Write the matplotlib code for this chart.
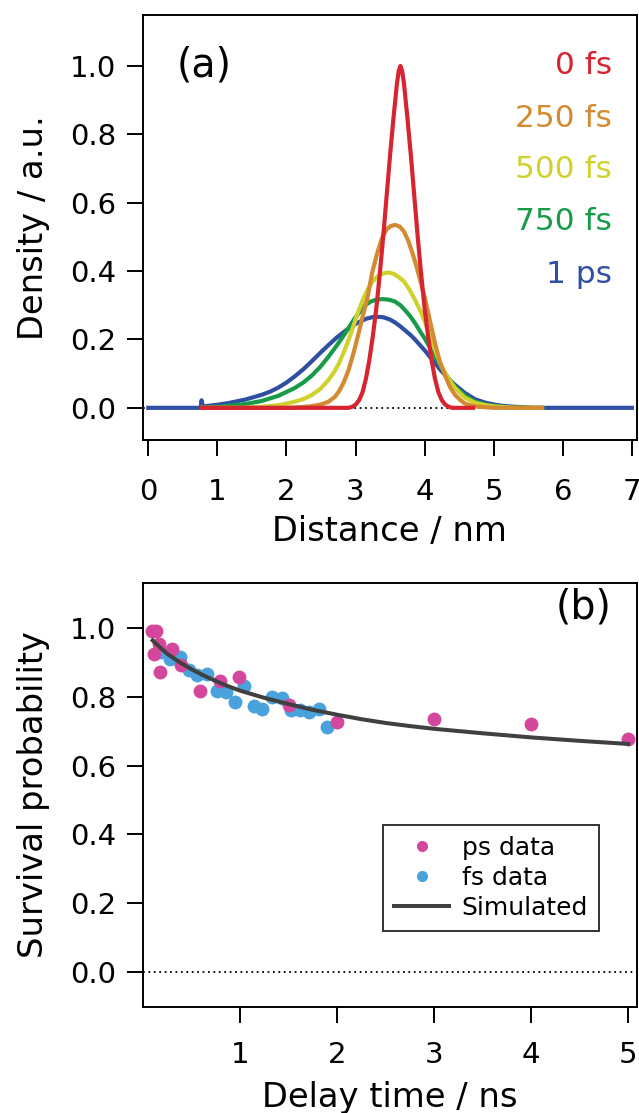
import matplotlib
matplotlib.use("Agg")
import matplotlib.pyplot as plt
from matplotlib.lines import Line2D

plt.rcParams['font.family'] = ['DejaVu Sans']

# ---------------- Panel (a) data: distance distributions ----------------
red_x = [0.78, 2.90, 2.95, 3.00, 3.05, 3.10, 3.15, 3.20, 3.25, 3.30, 3.35, 3.40, 3.45, 3.50,
         3.55, 3.60, 3.625, 3.65, 3.675, 3.70, 3.75, 3.80, 3.85, 3.90, 3.95, 4.00,
         4.05, 4.10, 4.15, 4.20, 4.25, 4.30, 4.35, 4.40, 4.70]
red_y = [0.0, 0.0, 0.003, 0.009, 0.022, 0.045, 0.085, 0.14, 0.21, 0.29, 0.39, 0.50, 0.62, 0.74,
         0.85, 0.95, 0.985, 1.0, 0.985, 0.95, 0.85, 0.74, 0.62, 0.50, 0.39, 0.29,
         0.21, 0.14, 0.085, 0.045, 0.022, 0.009, 0.003, 0.0, 0.0]

orange_x = [0.78, 2.00, 2.20, 2.37, 2.50, 2.61, 2.70, 2.76, 2.83, 2.90, 2.97, 3.04, 3.10, 3.17,
            3.24, 3.31, 3.38, 3.45, 3.51, 3.575, 3.64, 3.70, 3.76, 3.82, 3.88, 3.94, 4.01,
            4.08, 4.15, 4.22, 4.30, 4.37, 4.44, 4.52, 4.59, 4.73, 5.00, 5.70]
orange_y = [0.0, 0.0, 0.002, 0.005, 0.010, 0.018, 0.032, 0.048, 0.075, 0.111, 0.160, 0.215, 0.265, 0.320,
            0.395, 0.450, 0.495, 0.522, 0.532, 0.535, 0.530, 0.516, 0.490, 0.455, 0.415, 0.370, 0.316,
            0.252, 0.189, 0.135, 0.092, 0.060, 0.038, 0.022, 0.012, 0.004, 0.0, 0.0]

yellow_x = [0.78, 1.40, 1.64, 1.90, 2.12, 2.25, 2.37, 2.50, 2.61, 2.69, 2.76, 2.83, 2.90, 2.97,
            3.04, 3.11, 3.18, 3.25, 3.32, 3.40, 3.475, 3.55, 3.62, 3.70, 3.78, 3.86, 3.94,
            4.01, 4.08, 4.15, 4.22, 4.30, 4.37, 4.44, 4.58, 4.73, 4.88, 5.02, 5.30, 5.70]
yellow_y = [0.0, 0.0, 0.003, 0.008, 0.018, 0.026, 0.038, 0.057, 0.082, 0.105, 0.130, 0.163, 0.199, 0.240,
            0.282, 0.318, 0.348, 0.370, 0.385, 0.393, 0.396, 0.392, 0.383, 0.370, 0.346, 0.316, 0.283,
            0.248, 0.208, 0.170, 0.133, 0.101, 0.078, 0.058, 0.030, 0.015, 0.008, 0.004, 0.0, 0.0]

green_x = [0.78, 1.00, 1.16, 1.40, 1.64, 1.88, 2.12, 2.25, 2.37, 2.49, 2.61, 2.73, 2.85, 2.92,
           2.99, 3.07, 3.14, 3.22, 3.31, 3.40, 3.49, 3.57, 3.65, 3.72, 3.79, 3.86, 3.93,
           4.01, 4.08, 4.15, 4.22, 4.30, 4.37, 4.44, 4.58, 4.73, 4.88, 5.02, 5.25, 5.50, 5.70]
green_y = [0.0, 0.003, 0.006, 0.011, 0.020, 0.035, 0.058, 0.075, 0.095, 0.120, 0.150, 0.183, 0.218, 0.240,
           0.262, 0.283, 0.300, 0.311, 0.317, 0.318, 0.316, 0.311, 0.300, 0.285, 0.268, 0.248, 0.225,
           0.200, 0.175, 0.150, 0.126, 0.100, 0.080, 0.062, 0.036, 0.018, 0.010, 0.005, 0.002, 0.0, 0.0]

blue_x = [0.0, 0.76, 0.77, 0.79, 1.00, 1.16, 1.40, 1.64, 1.76, 1.88, 2.00, 2.12, 2.25, 2.37,
          2.49, 2.61, 2.73, 2.85, 2.95, 3.04, 3.16, 3.28, 3.40, 3.49, 3.57, 3.65, 3.72,
          3.79, 3.86, 3.93, 4.01, 4.08, 4.15, 4.22, 4.30, 4.37, 4.44, 4.58, 4.73, 4.88,
          5.02, 5.16, 5.31, 5.60, 7.0]
blue_y = [0.0, 0.0, 0.022, 0.004, 0.009, 0.014, 0.024, 0.038, 0.047, 0.059, 0.074, 0.092, 0.114, 0.137,
          0.161, 0.184, 0.206, 0.225, 0.239, 0.250, 0.261, 0.267, 0.265, 0.259, 0.250, 0.238, 0.226,
          0.214, 0.200, 0.184, 0.166, 0.148, 0.131, 0.113, 0.095, 0.080, 0.067, 0.044, 0.025, 0.015,
          0.009, 0.005, 0.003, 0.0, 0.0]

time_labels = ["0 fs", "250 fs", "500 fs", "750 fs", "1 ps"]
label_y = [0.976, 0.822, 0.672, 0.521, 0.365]

# ---------------- Panel (b) data: survival probability ----------------
ps_t = [0.09, 0.13, 0.16, 0.11, 0.30, 0.17, 0.39, 0.59, 0.79, 0.99, 1.50, 2.00, 3.00, 4.00, 5.00]
ps_p = [0.99, 0.99, 0.955, 0.925, 0.94, 0.873, 0.894, 0.818, 0.847, 0.859, 0.777, 0.726, 0.735, 0.721, 0.677]

fs_t = [0.19, 0.28, 0.38, 0.47, 0.56, 0.66, 0.76, 0.85, 0.95, 1.04, 1.14, 1.23, 1.33, 1.43,
        1.52, 1.62, 1.71, 1.81, 1.90]
fs_p = [0.93, 0.91, 0.915, 0.877, 0.863, 0.866, 0.818, 0.815, 0.785, 0.832, 0.774, 0.765, 0.80, 0.797,
        0.761, 0.763, 0.755, 0.766, 0.712]

sim_t = [0.10, 0.175, 0.25, 0.375, 0.50, 0.625, 0.75, 0.875, 1.00, 1.25, 1.50, 1.75, 2.00,
         2.25, 2.50, 2.75, 3.00, 3.50, 4.00, 4.50, 5.00]
sim_p = [0.964, 0.944, 0.925, 0.901, 0.880, 0.862, 0.846, 0.831, 0.818, 0.797, 0.779, 0.762, 0.748,
         0.735, 0.724, 0.715, 0.707, 0.694, 0.682, 0.672, 0.663]

# ---------------- styling ----------------
c_red = '#D62530'
c_orange = '#D38A31'
c_yellow = '#CFD22E'
c_green = '#179B48'
c_blue = '#2F4FA2'
c_pink = '#D3489C'
c_lblue = '#4AA2DC'
c_sim = '#404040'

TICK = 21
LAB = 24.3
SP_LW = 1.4

fig = plt.figure(figsize=(6.39, 11.13), dpi=100)
ax1 = fig.add_axes([0.2238, 0.6047, 0.7726, 0.3818])
ax2 = fig.add_axes([0.2238, 0.0955, 0.7731, 0.3807])

for ax in (ax1, ax2):
    for s in ax.spines.values():
        s.set_linewidth(SP_LW)
    ax.tick_params(direction='out', length=11.5, width=SP_LW, labelsize=TICK, pad=8,
                   top=False, right=False)
ax1.tick_params(axis='x', pad=16)
ax2.tick_params(axis='x', pad=13)

# Panel (a)
ax1.axhline(0, color='black', lw=1.3, ls=(0, (1, 2)), zorder=1)
lw = 3.0
ax1.plot(blue_x, blue_y, color=c_blue, lw=lw, zorder=2)
ax1.plot(green_x, green_y, color=c_green, lw=lw, zorder=3)
ax1.plot(yellow_x, yellow_y, color=c_yellow, lw=lw, zorder=4)
ax1.plot(orange_x, orange_y, color=c_orange, lw=lw, zorder=5)
ax1.plot(red_x, red_y, color=c_red, lw=lw, zorder=6)
ax1.set_xlim(-0.077, 7.07)
ax1.set_ylim(-0.094, 1.149)
ax1.set_xticks(range(0, 8))
ax1.set_yticks([0.0, 0.2, 0.4, 0.6, 0.8, 1.0])
ax1.set_yticklabels(['0.0', '0.2', '0.4', '0.6', '0.8', '1.0'])
ax1.set_xlabel('Distance / nm', fontsize=LAB, labelpad=6.5)
ax1.set_ylabel('Density / a.u.', fontsize=LAB, labelpad=14.5)
ax1.text(0.41, 1.0, '(a)', fontsize=28.5, ha='left', va='center',
         transform=ax1.transData)
for lab, yv, col in zip(time_labels, label_y, [c_red, c_orange, c_yellow, c_green, c_blue]):
    ax1.text(6.71, yv, lab, color=col, fontsize=22.5, ha='right', va='baseline')

# Panel (b)
ax2.axhline(0, color='black', lw=1.3, ls=(0, (1, 2)), zorder=1)
ax2.plot(ps_t, ps_p, 'o', color=c_pink, ms=10, mec='none', zorder=3, label='ps data')
ax2.plot(fs_t, fs_p, 'o', color=c_lblue, ms=10, mec='none', zorder=2, label='fs data')
ax2.plot(sim_t, sim_p, '-', color=c_sim, lw=2.9, zorder=4, label='Simulated')
ax2.set_xlim(0, 5.09)
ax2.set_ylim(-0.101, 1.131)
ax2.set_xticks([1, 2, 3, 4, 5])
ax2.set_yticks([0.0, 0.2, 0.4, 0.6, 0.8, 1.0])
ax2.set_yticklabels(['0.0', '0.2', '0.4', '0.6', '0.8', '1.0'])
ax2.set_xlabel('Delay time / ns', fontsize=LAB, labelpad=9)
ax2.set_ylabel('Survival probability', fontsize=LAB, labelpad=14.5)
ax2.text(0.949, 0.941, '(b)', fontsize=28.5, ha='right', va='center', transform=ax2.transAxes)

handles = [Line2D([], [], ls='none', marker='o', color=c_pink, ms=8, mec='none'),
           Line2D([], [], ls='none', marker='o', color=c_lblue, ms=8, mec='none'),
           Line2D([], [], color=c_sim, lw=2.9)]
leg = ax2.legend(handles, ['ps data', 'fs data', 'Simulated'], loc='upper left',
                 bbox_to_anchor=(0.486, 0.429), fontsize=18, frameon=True, fancybox=False,
                 borderpad=0.45, labelspacing=0.24, handlelength=2.2, handletextpad=0.5,
                 borderaxespad=0.0)
leg.get_frame().set_edgecolor('black')
leg.get_frame().set_linewidth(1.4)

fig.savefig('out.png', dpi=100)
